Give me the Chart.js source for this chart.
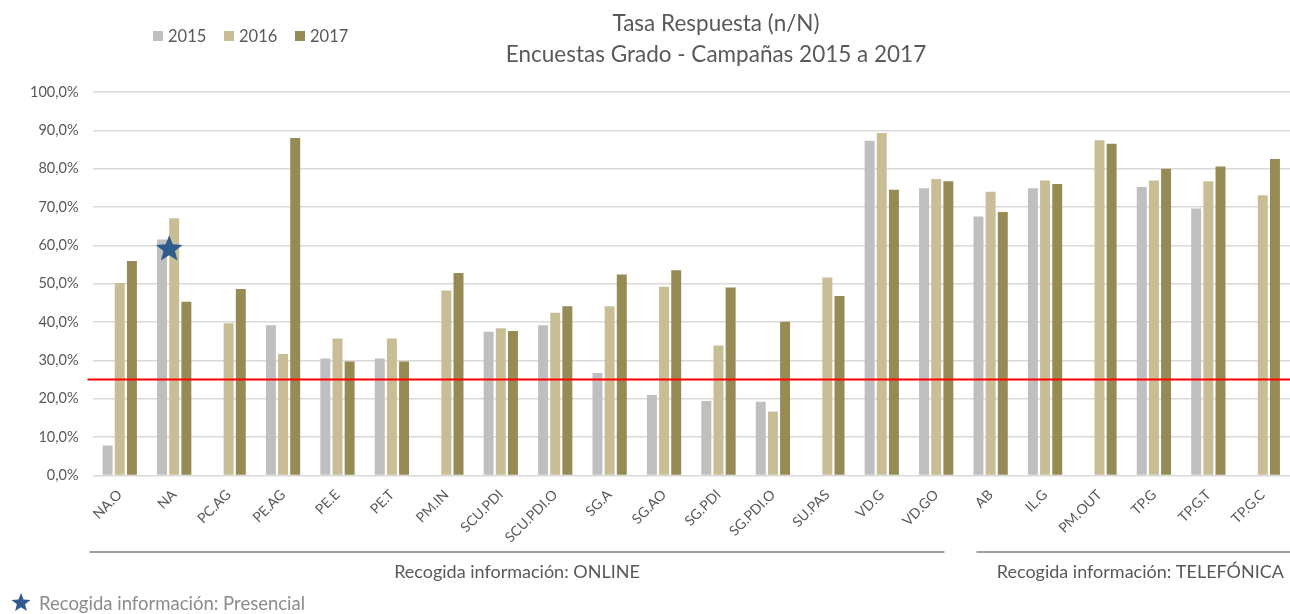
<!DOCTYPE html>
<html>
<head>
<meta charset="utf-8">
<script src="https://cdn.jsdelivr.net/npm/chart.js@4.4.1/dist/chart.umd.min.js"></script>
<style>
  html, body { margin: 0; background: #fff; }
  #wrap { width: 1290px; height: 614px; }
</style>
</head>
<body>
<div id="wrap"><canvas id="chart" width="1290" height="614"></canvas></div>
<script>
const categories = ['NA.O', 'NA', 'PC.AG', 'PE.AG', 'PE.E', 'PE.T', 'PM.IN', 'SCU.PDI', 'SCU.PDI.O', 'SG.A', 'SG.AO',
    'SG.PDI', 'SG.PDI.O', 'SU.PAS', 'VD.G', 'VD.GO', 'AB', 'IL.G', 'PM.OUT', 'TP.G', 'TP.G.T', 'TP.G.C'];

const values2015 = [7.8, 61.5, null, 39.2, 30.5, 30.5, null, 37.5, 39.2, 26.7, 21.0,
    19.4, 19.2, null, 87.3, 74.9, 67.5, 74.9, null, 75.2, 69.6, null];
const values2016 = [50.2, 67.1, 39.7, 31.7, 35.7, 35.7, 48.2, 38.4, 42.4, 44.1, 49.2,
    33.9, 16.7, 51.6, 89.3, 77.3, 74.0, 76.9, 87.4, 76.9, 76.7, 73.1];
const values2017 = [55.9, 45.3, 48.6, 88.0, 29.7, 29.7, 52.8, 37.7, 44.1, 52.4, 53.5,
    49.0, 40.1, 46.8, 74.5, 76.7, 68.7, 76.0, 86.5, 80.0, 80.6, 82.5];

const yTicks = [0, 10, 20, 30, 40, 50, 60, 70, 80, 90, 100];
const objetivo = 25;

const presencial = [{ category: 'NA', value: 59 }];

const groups = [
    { label: 'Recogida información: ONLINE', from: 'NA.O', to: 'VD.GO' },
    { label: 'Recogida información: TELEFÓNICA', from: 'AB', to: 'TP.G.C' }
];

const titleLines = ['Tasa Respuesta (n/N)', 'Encuestas Grado - Campañas 2015 a 2017'];

const FONT = 'Lato, "Open Sans", sans-serif';
const TEXT = '#595959';

const drawStar = (ctx, cx, cy, outer, inner) => {
    ctx.beginPath();
    for (let i = 0; i < 10; i++) {
        const r = i % 2 === 0 ? outer : inner;
        const a = -Math.PI / 2 + i * Math.PI / 5;
        const px = cx + r * Math.cos(a);
        const py = cy + r * Math.sin(a);
        i === 0 ? ctx.moveTo(px, py) : ctx.lineTo(px, py);
    }
    ctx.closePath();
    ctx.fillStyle = '#2f5b8e';
    ctx.fill();
};

// titulo, leyenda, linea objetivo, agrupaciones y estrella
const extras = {
    id: 'extras',
    afterDatasetsDraw(chart) {
        const { ctx, chartArea, scales: { x, y } } = chart;
        ctx.save();

        // linea roja objetivo
        const yo = y.getPixelForValue(objetivo);
        ctx.strokeStyle = '#ff0000';
        ctx.lineWidth = 2;
        ctx.beginPath();
        ctx.moveTo(chartArea.left - 5, yo);
        ctx.lineTo(chartArea.right, yo);
        ctx.stroke();

        // marcas presencial
        presencial.forEach(p => {
            const px = x.getPixelForValue(categories.indexOf(p.category)) - 5;
            drawStar(ctx, px, y.getPixelForValue(p.value), 14, 6);
        });

        // titulo
        ctx.fillStyle = TEXT;
        ctx.textAlign = 'center';
        ctx.textBaseline = 'middle';
        ctx.font = `22.5px ${FONT}`;
        ctx.fillText(titleLines[0], 716, 24);
        ctx.fillText(titleLines[1], 716, 55);

        // leyenda
        ctx.font = `16.5px ${FONT}`;
        ctx.textAlign = 'left';
        let lx = 153;
        chart.data.datasets.forEach(ds => {
            ctx.fillStyle = ds.backgroundColor;
            ctx.fillRect(lx, 31, 10, 10);
            ctx.fillStyle = TEXT;
            ctx.fillText(ds.label, lx + 15, 37);
            lx += 71;
        });

        // agrupaciones
        const half = (x.getPixelForValue(1) - x.getPixelForValue(0)) / 2;
        groups.forEach((g, i) => {
            const a = x.getPixelForValue(categories.indexOf(g.from)) - half;
            const b = x.getPixelForValue(categories.indexOf(g.to)) + half;
            const x0 = i === 0 ? a - 3 : a + 13;
            const x1 = i === 0 ? b - 19 : chartArea.right;
            ctx.strokeStyle = '#7f7f7f';
            ctx.lineWidth = 1.5;
            ctx.beginPath();
            ctx.moveTo(x0, 552);
            ctx.lineTo(x1, 552);
            ctx.stroke();
            ctx.fillStyle = TEXT;
            ctx.font = `18px ${FONT}`;
            if (i === 0) {
                ctx.textAlign = 'center';
                ctx.fillText(g.label, (x0 + x1) / 2, 572);
            } else {
                ctx.textAlign = 'right';
                ctx.fillText(g.label, 1284, 572);
            }
        });

        // leyenda estrella
        drawStar(ctx, 21, 603, 10, 4.3);
        ctx.fillStyle = '#8c8c8c';
        ctx.textAlign = 'left';
        ctx.font = `18.5px ${FONT}`;
        ctx.fillText('Recogida información: Presencial', 39, 604);

        ctx.restore();
    }
};

new Chart(document.getElementById('chart'), {
    type: 'bar',
    data: {
        labels: categories,
        datasets: [
            { label: '2015', data: values2015, backgroundColor: '#bfbfbf' },
            { label: '2016', data: values2016, backgroundColor: '#c7be96' },
            { label: '2017', data: values2017, backgroundColor: '#968a55' }
        ]
    },
    options: {
        responsive: false,
        animation: false,
        categoryPercentage: 0.67,
        barPercentage: 0.82,
        layout: { padding: { top: 92, left: 16, right: 0, bottom: 65 } },
        plugins: {
            legend: { display: false },
            tooltip: { enabled: false }
        },
        scales: {
            x: {
                grid: { display: false },
                border: { display: false },
                ticks: {
                    color: TEXT,
                    font: { family: FONT, size: 14 },
                    minRotation: 45,
                    maxRotation: 45,
                    autoSkip: false
                }
            },
            y: {
                min: 0,
                max: 100,
                afterBuildTicks: axis => {
                    axis.ticks = yTicks.map(v => ({ value: v }));
                },
                grid: { color: '#d9d9d9', lineWidth: 1.5, drawTicks: false },
                border: { display: false },
                ticks: {
                    color: TEXT,
                    padding: 14,
                    font: { family: FONT, size: 14.5 },
                    callback: value => value.toFixed(1).replace('.', ',') + '%'
                }
            }
        }
    },
    plugins: [extras]
});
</script>
</body>
</html>
